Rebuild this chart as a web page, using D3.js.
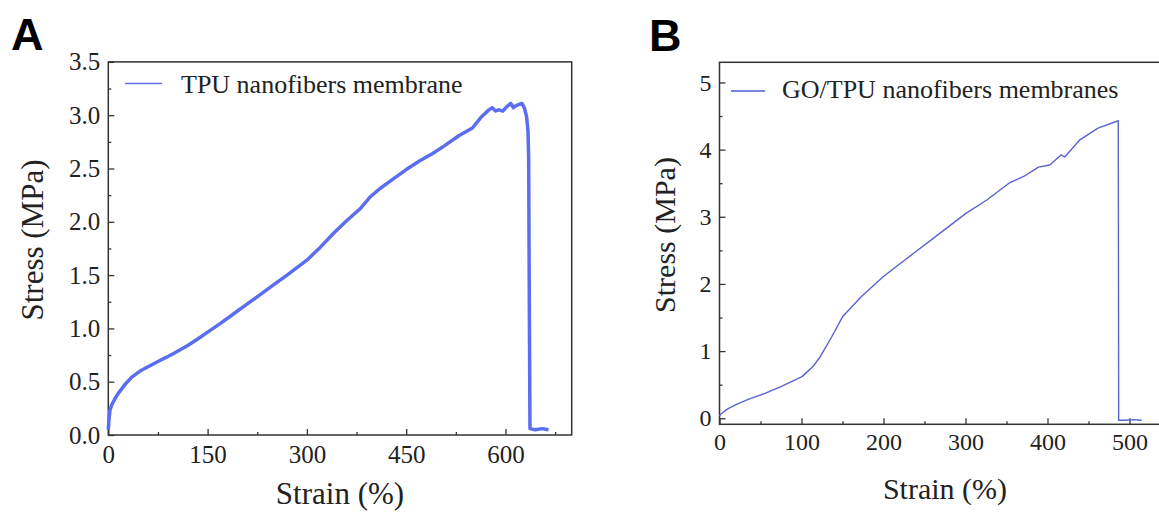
<!DOCTYPE html>
<html>
<head>
<meta charset="utf-8">
<script src="https://cdn.jsdelivr.net/npm/d3@7"></script>
<style>
  body { margin: 0; background: #fff; }
  svg text { font-family: "Liberation Serif", Tinos, "DejaVu Serif", "Times New Roman", Times, serif !important; fill: #222; }
  svg text.letter { font-family: "Liberation Sans", Arial, sans-serif !important; font-weight: bold; fill: #000; }
</style>
</head>
<body>
<svg id="chart"></svg>
<script>
const width = 1159, height = 517;

// Panel A - TPU nanofibers membrane
const strainA = [0, 1, 2.4, 5, 10, 15, 20, 26, 35, 48, 60, 75, 88, 100, 120, 135, 149, 170, 190, 210, 228, 250, 270, 285, 300, 320, 340, 360, 380, 395, 410, 430, 450, 470, 490, 507, 530, 550, 563, 575, 580, 585, 590, 596, 602, 608, 612, 616, 620, 625, 629, 632, 634, 635, 636, 637, 645, 655, 665];
const stressA = [0.05, 0.14, 0.23, 0.28, 0.34, 0.39, 0.43, 0.48, 0.54, 0.6, 0.64, 0.69, 0.73, 0.77, 0.84, 0.9, 0.96, 1.05, 1.14, 1.23, 1.31, 1.41, 1.5, 1.57, 1.64, 1.76, 1.89, 2.01, 2.12, 2.23, 2.31, 2.4, 2.49, 2.57, 2.64, 2.71, 2.81, 2.88, 2.98, 3.05, 3.07, 3.04, 3.05, 3.04, 3.08, 3.11, 3.07, 3.09, 3.1, 3.11, 3.06, 2.98, 2.85, 2.6, 1.2, 0.06, 0.05, 0.06, 0.05];
const xTicksA = [0, 150, 300, 450, 600];
const xMinorA = [75, 225, 375, 525, 675];
const yTicksA = [0, 0.5, 1.0, 1.5, 2.0, 2.5, 3.0, 3.5];
const yMinorA = [0.25, 0.75, 1.25, 1.75, 2.25, 2.75, 3.25];

// Panel B - GO/TPU nanofibers membranes
const strainB = [0, 1.3, 10, 19.4, 35, 55.5, 75, 100.6, 114, 123, 136.7, 150, 172.8, 199.9, 236, 263, 300.5, 326, 353, 371, 389, 402.8, 416.5, 420.9, 439, 461.6, 486.3, 486.8, 495, 505, 515];
const stressB = [0.03, 0.06, 0.14, 0.2, 0.28, 0.37, 0.47, 0.62, 0.77, 0.92, 1.21, 1.51, 1.81, 2.11, 2.45, 2.7, 3.05, 3.25, 3.5, 3.6, 3.74, 3.77, 3.92, 3.89, 4.14, 4.32, 4.43, -0.03, -0.03, -0.02, -0.03];
const xTicksB = [0, 100, 200, 300, 400, 500];
const xMinorB = [50, 150, 250, 350, 450];
const yTicksB = [0, 1, 2, 3, 4, 5];
const yMinorB = [0.5, 1.5, 2.5, 3.5, 4.5];

const svg = d3.select("#chart")
    .attr("width", width)
    .attr("height", height)
    .style("background", "#fff");

function drawPanel(p) {
    const x = d3.scaleLinear().domain(p.xDomain).range([p.left, p.right]);
    const y = d3.scaleLinear().domain(p.yDomain).range([p.bottom, p.top]);
    const g = svg.append("g");

    // frame
    g.append("rect")
        .attr("x", p.left).attr("y", p.top)
        .attr("width", p.right - p.left).attr("height", p.bottom - p.top)
        .attr("fill", "none").attr("stroke", "#333").attr("stroke-width", 1.5);

    // axes, ticks point inward
    g.append("g")
        .attr("transform", `translate(0,${p.bottom})`)
        .call(d3.axisBottom(x).tickValues(p.xTicks).tickSize(-6).tickPadding(p.xPad).tickFormat(d3.format("d")));
    g.append("g")
        .attr("transform", `translate(0,${p.bottom})`)
        .call(d3.axisBottom(x).tickValues(p.xMinor).tickSize(-3).tickFormat(""));
    g.append("g")
        .attr("transform", `translate(${p.left},0)`)
        .call(d3.axisLeft(y).tickValues(p.yTicks).tickSize(-6).tickPadding(8).tickFormat(d3.format(p.yFormat)));
    g.append("g")
        .attr("transform", `translate(${p.left},0)`)
        .call(d3.axisLeft(y).tickValues(p.yMinor).tickSize(-3).tickFormat(""));

    g.selectAll(".domain").remove();
    g.selectAll(".tick line").attr("stroke", "#333").attr("stroke-width", 1.3);
    g.selectAll(".tick text")
        .style("font-size", p.tickFont + "px");

    // curve
    const pts = p.strain.map((s, i) => [s, p.stress[i]]);
    g.append("path")
        .datum(pts)
        .attr("fill", "none")
        .attr("stroke", p.color)
        .attr("stroke-width", p.lineWidth)
        .attr("stroke-linejoin", "round")
        .attr("d", d3.line().x(d => x(d[0])).y(d => y(d[1])));

    // legend
    g.append("line")
        .attr("x1", p.legend.x1).attr("x2", p.legend.x2)
        .attr("y1", p.legend.y).attr("y2", p.legend.y)
        .attr("stroke", p.legendColor).attr("stroke-width", 1.6);
    g.append("text")
        .attr("x", p.legend.tx).attr("y", p.legend.ty)
        .style("font-size", p.legendFont + "px")
        .text(p.label);

    // axis titles
    g.append("text")
        .attr("x", p.xTitle[0]).attr("y", p.xTitle[1])
        .attr("text-anchor", "middle")
        .style("font-size", p.titleFont + "px")
        .text("Strain (%)");
    g.append("text")
        .attr("transform", `translate(${p.yTitle[0]},${p.yTitle[1]}) rotate(-90)`)
        .attr("text-anchor", "middle")
        .style("font-size", p.titleFont + "px")
        .text("Stress (MPa)");

    // panel letter
    svg.append("text")
        .attr("class", "letter")
        .attr("x", p.letterPos[0]).attr("y", p.letterPos[1])
        .style("font-size", "45px")
        .text(p.letter);
}

drawPanel({
    letter: "A", letterPos: [11, 50],
    left: 108.3, right: 571.7, top: 61.9, bottom: 435,
    xDomain: [0, 700], yDomain: [0, 3.5],
    xTicks: xTicksA, xMinor: xMinorA, yTicks: yTicksA, yMinor: yMinorA, yFormat: ".1f",
    strain: strainA, stress: stressA, xPad: 10,
    color: "#5b6ef0", lineWidth: 3.5, legendColor: "#6470e6",
    label: "TPU nanofibers membrane",
    legend: { x1: 125, x2: 162, y: 83.5, tx: 181, ty: 93 },
    tickFont: 25, legendFont: 26, titleFont: 31,
    xTitle: [340, 504], yTitle: [43, 240]
});

drawPanel({
    letter: "B", letterPos: [649, 51],
    left: 719.5, right: 719.5 + 0.82 * 550, top: 62.3, bottom: 424.3,
    xDomain: [0, 550], yDomain: [-0.09, 5.3],
    xTicks: xTicksB, xMinor: xMinorB, yTicks: yTicksB, yMinor: yMinorB, yFormat: "d",
    strain: strainB, stress: stressB, xPad: 9,
    color: "#5a62d0", lineWidth: 1.4, legendColor: "#4a5ed8",
    label: "GO/TPU nanofibers membranes",
    legend: { x1: 731, x2: 765, y: 91, tx: 782, ty: 98 },
    tickFont: 24, legendFont: 26, titleFont: 30,
    xTitle: [945, 499], yTitle: [675, 235]
});
</script>
</body>
</html>
